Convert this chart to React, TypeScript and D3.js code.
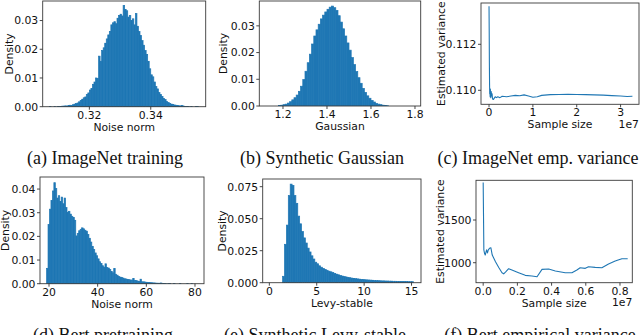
import React from 'react';
import * as d3 from 'd3';

const BLUE = '#1f77b4';

// (a) ImageNet noise norm histogram
const aBinStart = 0.307;
const aBinWidth = 0.0005;
const aDensity = [
  0.0001, 0, 0, 0.0001, 0, 0.0001, 0.0001, 0.0001, 0.0002, 0.0002,
  0.0003, 0.0002, 0.0004, 0.0005, 0.0004, 0.0007, 0.0009, 0.0011, 0.0013, 0.0017,
  0.0022, 0.0026, 0.0031, 0.0034, 0.0042, 0.0048, 0.0058, 0.0063, 0.0078, 0.0086,
  0.0100, 0.0098, 0.0176, 0.0158, 0.0196, 0.0205, 0.0221, 0.0236, 0.0250, 0.0262,
  0.0285, 0.0292, 0.0296, 0.0289, 0.0308, 0.0318, 0.0322, 0.0316, 0.0352, 0.0338,
  0.0334, 0.0312, 0.0317, 0.0300, 0.0306, 0.0285, 0.0324, 0.0280, 0.0262, 0.0248,
  0.0230, 0.0214, 0.0196, 0.0182, 0.0158, 0.0132, 0.0111, 0.0104, 0.0086, 0.0070,
  0.0062, 0.0049, 0.0042, 0.0036, 0.0029, 0.0025, 0.0018, 0.0015, 0.0011, 0.0009,
  0.0008, 0.0006, 0.0005, 0.0004, 0.0003, 0.0003, 0.0004, 0.0002, 0.0001, 0.0001,
  0.0001, 0, 0.0001, 0, 0, 0.0001, 0.0001,
];
const aXTicks = [0.32, 0.34];
const aYTicks = [0, 0.01, 0.02, 0.03];

// (b) Synthetic Gaussian histogram
const bBinStart = 1.18;
const bBinWidth = 0.01;
const bDensity = [
  0.0002, 0.0003, 0.0005, 0.0007, 0.0011, 0.0016, 0.0023, 0.0031, 0.0041, 0.0055,
  0.0074, 0.0099, 0.0130, 0.0162, 0.0194, 0.0232, 0.0262, 0.0285, 0.0306, 0.0326,
  0.0340, 0.0352, 0.0362, 0.0370, 0.0374, 0.0368, 0.0358, 0.0338, 0.0314, 0.0289,
  0.0262, 0.0236, 0.0209, 0.0181, 0.0155, 0.0129, 0.0106, 0.0085, 0.0066, 0.0051,
  0.0038, 0.0029, 0.0021, 0.0015, 0.0010, 0.0007, 0.0005, 0.0003, 0.0002, 0.0001,
];
const bXTicks = [1.2, 1.4, 1.6, 1.8];
const bYTicks = [0, 0.01, 0.02, 0.03];

// (c) ImageNet empirical variance (sample size in 1e7)
const cSampleSize = [
  0, 0.004, 0.008, 0.012, 0.016, 0.02, 0.025, 0.03, 0.04, 0.05,
  0.06, 0.07, 0.08, 0.1, 0.12, 0.14, 0.17, 0.2, 0.25, 0.3,
  0.4, 0.5, 0.6, 0.7, 0.8, 0.9, 1.0, 1.1, 1.2, 1.4,
  1.6, 1.8, 2.0, 2.2, 2.4, 2.6, 2.8, 3.0, 3.15, 3.27,
];
const cVariance = [
  0.11365, 0.1126, 0.1112, 0.1103, 0.10985, 0.11, 0.10972, 0.11005, 0.10968, 0.10995,
  0.10975, 0.10985, 0.10962, 0.1096, 0.10966, 0.10972, 0.10968, 0.10972, 0.10968, 0.10974,
  0.10972, 0.10975, 0.10978, 0.10976, 0.1098, 0.10975, 0.1097, 0.10972, 0.10978, 0.10981,
  0.10982, 0.10983, 0.10982, 0.10981, 0.1098, 0.10979, 0.10977, 0.10975, 0.10973, 0.10974,
];
const cXTicks = [0, 1, 2, 3];
const cYTicks = [0.11, 0.112];

// (d) Bert pretraining noise norm histogram
const dBinStart = 19.0;
const dBinWidth = 0.6;
const dDensity = [
  0.0065, 0.0250, 0.0315, 0.0352, 0.0392, 0.0427, 0.0402, 0.0362, 0.0372, 0.0348,
  0.0366, 0.0338, 0.0362, 0.0322, 0.0302, 0.0306, 0.0294, 0.0285, 0.0280, 0.0268,
  0.0202, 0.0212, 0.0224, 0.0230, 0.0236, 0.0232, 0.0226, 0.0222, 0.0208, 0.0192,
  0.0176, 0.0158, 0.0144, 0.0130, 0.0118, 0.0105, 0.0093, 0.0086, 0.0076, 0.0070,
  0.0084, 0.0068, 0.0066, 0.0060, 0.0052, 0.0046, 0.0064, 0.0040, 0.0036, 0.0031,
  0.0028, 0.0026, 0.0024, 0.0021, 0.0020, 0.0018, 0.0017, 0.0016, 0.0015, 0.0022,
  0.0013, 0.0013, 0.0011, 0.0010, 0.0019, 0.0008, 0.0008, 0.0007, 0.0006, 0.0005,
  0.0005, 0.0004, 0.0004, 0.0003, 0.0003, 0.0002, 0.0002, 0.0002, 0.0003, 0.0001,
  0.0001, 0.0001, 0, 0.0001, 0.0001, 0, 0, 0.0001, 0, 0,
  0, 0.0001, 0, 0, 0, 0, 0.0001, 0, 0, 0.0001,
];
const dXTicks = [20, 40, 60, 80];
const dYTicks = [0, 0.01, 0.02, 0.03, 0.04];

// (e) Synthetic Levy-stable histogram
const eBinStart = 1.4;
const eBinWidth = 0.2;
const eDensity = [
  0.005, 0.030, 0.045, 0.068, 0.077, 0.076, 0.068, 0.062, 0.052, 0.046,
  0.040, 0.035, 0.031, 0.027, 0.024, 0.021, 0.0185, 0.016, 0.0148, 0.0132,
  0.0121, 0.0112, 0.0104, 0.0097, 0.0090, 0.0085, 0.0079, 0.0073, 0.0067, 0.0062,
  0.0057, 0.0052, 0.0048, 0.0045, 0.0042, 0.0039, 0.0036, 0.0034, 0.0032, 0.0030,
  0.0028, 0.0026, 0.0025, 0.0023, 0.0022, 0.0021, 0.0020, 0.0019, 0.0018, 0.0017,
  0.0016, 0.0015, 0.0014, 0.0014, 0.0013, 0.0013, 0.0012, 0.0012, 0.0011, 0.0011,
  0.0010, 0.0010, 0.0010, 0.0009, 0.0009, 0.0009, 0.0008, 0.0008, 0.0008,
];
const eXTicks = [0, 5, 10, 15];
const eYTicks = [0, 0.025, 0.05, 0.075];

// (f) Bert empirical variance (sample size in 1e7)
const fSampleSize = [
  0, 0.004, 0.008, 0.012, 0.016, 0.02, 0.025, 0.03, 0.037, 0.045,
  0.053, 0.072, 0.092, 0.11, 0.12, 0.133, 0.149, 0.168, 0.207, 0.246,
  0.285, 0.315, 0.344, 0.383, 0.422, 0.48, 0.519, 0.548, 0.567, 0.597,
  0.616, 0.655, 0.694, 0.733, 0.772, 0.811, 0.845,
];
const fVariance = [
  1938, 1149, 1110, 1090, 1120, 1150, 1115, 1150, 1168, 1175,
  1090, 1012, 941, 883, 870, 895, 930, 915, 883, 852,
  844, 835, 922, 926, 903, 883, 883, 915, 941, 934,
  953, 945, 941, 985, 1020, 1047, 1047,
];
const fXTicks = [0, 0.2, 0.4, 0.6, 0.8];
const fYTicks = [1000, 1500];

const captionsTop = ['(a) ImageNet training', '(b) Synthetic Gaussian', '(c) ImageNet emp. variance'];
const captionsBottom = ['(d) Bert pretraining', '(e) Synthetic Levy-stable', '(f) Bert empirical variance'];

const TICK_FONT = 'DejaVu Sans, Verdana, sans-serif';
const CAP_FONT = 'Liberation Serif, Times New Roman, serif';
const FS = 10.8;

type Frame = { l: number; t: number; r: number; b: number };

interface PanelProps {
  id: string;
  frame: Frame;
  xDomain: [number, number];
  yDomain: [number, number];
  xTicks: number[];
  yTicks: number[];
  xFmt: (v: number) => string;
  yFmt: (v: number) => string;
  xLabel: string;
  yLabel: string;
  yLabelX: number;
  offsetText?: string;
  hist?: { start: number; width: number; values: number[] };
  line?: { x: number[]; y: number[] };
}

function Panel(p: PanelProps) {
  const { frame } = p;
  const x = d3.scaleLinear().domain(p.xDomain).range([frame.l, frame.r]);
  const y = d3.scaleLinear().domain(p.yDomain).range([frame.b, frame.t]);
  const lineGen = d3.line<[number, number]>();
  return (
    <g>
      <clipPath id={p.id}>
        <rect x={frame.l} y={frame.t} width={frame.r - frame.l} height={frame.b - frame.t} />
      </clipPath>
      <g clipPath={`url(#${p.id})`}>
        {p.hist &&
          p.hist.values.map((v, i) => {
            if (v <= 0) return null;
            const x0 = p.hist!.start + i * p.hist!.width;
            const xa = x(x0);
            const xb = x(x0 + p.hist!.width);
            return (
              <rect
                key={i}
                x={xa}
                width={xb - xa}
                y={y(v)}
                height={y(0) - y(v)}
                fill={BLUE}
                stroke={BLUE}
                strokeWidth={0.7}
              />
            );
          })}
        {p.line && (
          <path
            d={lineGen(p.line.x.map((xx, i) => [x(xx), y(p.line!.y[i])] as [number, number])) || ''}
            fill="none"
            stroke={BLUE}
            strokeWidth={1.1}
            strokeLinejoin="round"
          />
        )}
      </g>
      <rect
        x={frame.l}
        y={frame.t}
        width={frame.r - frame.l}
        height={frame.b - frame.t}
        fill="none"
        stroke="#3a3a3a"
        strokeWidth={0.9}
      />
      {p.xTicks.map((t) => (
        <g key={'x' + t}>
          <line x1={x(t)} x2={x(t)} y1={frame.b} y2={frame.b + 3} stroke="#333" strokeWidth={0.9} />
          <text
            x={x(t)}
            y={frame.b + 11.8}
            textAnchor="middle"
            fontFamily={TICK_FONT}
            fontSize={FS}
            fill="#111"
          >
            {p.xFmt(t)}
          </text>
        </g>
      ))}
      {p.yTicks.map((t) => (
        <g key={'y' + t}>
          <line x1={frame.l - 3} x2={frame.l} y1={y(t)} y2={y(t)} stroke="#333" strokeWidth={0.9} />
          <text
            x={frame.l - 4.5}
            y={y(t) + 3.9}
            textAnchor="end"
            fontFamily={TICK_FONT}
            fontSize={FS}
            fill="#111"
          >
            {p.yFmt(t)}
          </text>
        </g>
      ))}
      <text
        x={(frame.l + frame.r) / 2}
        y={frame.b + 23.8}
        textAnchor="middle"
        fontFamily={TICK_FONT}
        fontSize={FS}
        fill="#111"
      >
        {p.xLabel}
      </text>
      <text
        transform={`translate(${p.yLabelX + 3.8},${(frame.t + frame.b) / 2}) rotate(-90)`}
        textAnchor="middle"
        fontFamily={TICK_FONT}
        fontSize={FS}
        fill="#111"
      >
        {p.yLabel}
      </text>
      {p.offsetText && (
        <text
          x={frame.r}
          y={frame.b + 23.4}
          textAnchor="end"
          fontFamily={TICK_FONT}
          fontSize={FS}
          fill="#111"
        >
          {p.offsetText}
        </text>
      )}
    </g>
  );
}

const f2 = d3.format('.2f');
const f1 = d3.format('.1f');
const f3 = d3.format('.3f');
const fd = d3.format('d');

export default function App() {
  const topCapX = [105, 322, 538];
  const botCapX = [103, 315, 540];
  return (
    <svg
      width={640}
      height={335}
      style={{ position: 'absolute', left: 0, top: 0, display: 'block', background: '#fff' }}
    >
      <rect x={0} y={0} width={640} height={335} fill="#fff" />
      <Panel
        id="pa"
        frame={{ l: 42.7, t: 1, r: 205.7, b: 106.7 }}
        xDomain={[0.3048, 0.3579]}
        yDomain={[0, 0.0368]}
        xTicks={aXTicks}
        yTicks={aYTicks}
        xFmt={f2}
        yFmt={f2}
        xLabel="Noise norm"
        yLabel="Density"
        yLabelX={9.3}
        hist={{ start: aBinStart, width: aBinWidth, values: aDensity }}
      />
      <Panel
        id="pb"
        frame={{ l: 259.3, t: 1, r: 420.7, b: 106 }}
        xDomain={[1.0923, 1.826]}
        yDomain={[0, 0.0393]}
        xTicks={bXTicks}
        yTicks={bYTicks}
        xFmt={f1}
        yFmt={f2}
        xLabel="Gaussian"
        yLabel="Density"
        yLabelX={223.3}
        hist={{ start: bBinStart, width: bBinWidth, values: bDensity }}
      />
      <Panel
        id="pc"
        frame={{ l: 481, t: 3, r: 639, b: 104.3 }}
        xDomain={[-0.183, 3.42]}
        yDomain={[0.109391, 0.113796]}
        xTicks={cXTicks}
        yTicks={cYTicks}
        xFmt={fd}
        yFmt={f3}
        xLabel="Sample size"
        yLabel="Estimated variance"
        yLabelX={440.7}
        offsetText="1e7"
        line={{ x: cSampleSize, y: cVariance }}
      />
      <Panel
        id="pd"
        frame={{ l: 40, t: 177, r: 204, b: 283.7 }}
        xDomain={[16.3, 83.7]}
        yDomain={[0, 0.0451]}
        xTicks={dXTicks}
        yTicks={dYTicks}
        xFmt={fd}
        yFmt={f2}
        xLabel="Noise norm"
        yLabel="Density"
        yLabelX={5}
        hist={{ start: dBinStart, width: dBinWidth, values: dDensity }}
      />
      <Panel
        id="pe"
        frame={{ l: 262.7, t: 179, r: 421, b: 282.7 }}
        xDomain={[-0.7, 16.0]}
        yDomain={[0, 0.081]}
        xTicks={eXTicks}
        yTicks={eYTicks}
        xFmt={fd}
        yFmt={f3}
        xLabel="Levy-stable"
        yLabel="Density"
        yLabelX={221.7}
        hist={{ start: eBinStart, width: eBinWidth, values: eDensity }}
      />
      <Panel
        id="pf"
        frame={{ l: 476, t: 180.3, r: 632.3, b: 282.7 }}
        xDomain={[-0.042, 0.872]}
        yDomain={[766, 1965]}
        xTicks={fXTicks}
        yTicks={fYTicks}
        xFmt={f1}
        yFmt={fd}
        xLabel="Sample size"
        yLabel="Estimated variance"
        yLabelX={440}
        offsetText="1e7"
        line={{ x: fSampleSize, y: fVariance }}
      />
      {captionsTop.map((c, i) => (
        <text key={c} x={topCapX[i]} y={163.5} textAnchor="middle" fontFamily={CAP_FONT} fontSize={18} fill="#111">
          {c}
        </text>
      ))}
      {captionsBottom.map((c, i) => (
        <text key={c} x={botCapX[i]} y={341} textAnchor="middle" fontFamily={CAP_FONT} fontSize={18} fill="#111">
          {c}
        </text>
      ))}
    </svg>
  );
}
